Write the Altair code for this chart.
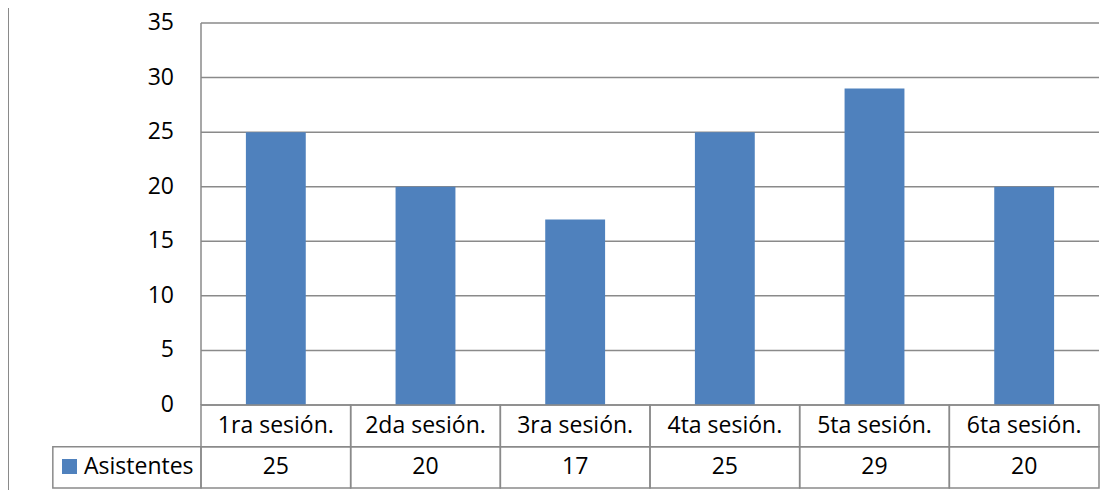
import altair as alt
import pandas as pd

categories = ["1ra sesión.", "2da sesión.", "3ra sesión.", "4ta sesión.", "5ta sesión.", "6ta sesión."]
values = [25, 20, 17, 25, 29, 20]
series_name = "Asistentes"
y_ticks = [0, 5, 10, 15, 20, 25, 30, 35]

BAR_COLOR = "#4F81BD"
LINE = "#8a8a8a"
FONT = "Open Sans"
FS = 23

XMIN, XMAX = -1.2895, 6.02
YMIN, YMAX = -7.788, 36.374
ROW1, ROW2 = -3.82, -7.6
W, H = 1094, 482
n = len(categories)
ymax_tick = max(y_ticks)

df = pd.DataFrame({"cat": categories, "value": values, "idx": list(range(n))})
df["serie"] = series_name
ticks = pd.DataFrame({"tick": y_ticks})
one = pd.DataFrame({"serie": [series_name]})

xs = alt.Scale(domain=[XMIN, XMAX], nice=False, zero=False)
ys = alt.Scale(domain=[YMIN, YMAX], nice=False, zero=False)


def X(f):
    return alt.X(f, type="quantitative", scale=xs, axis=None)


def Y(f):
    return alt.Y(f, type="quantitative", scale=ys, axis=None)


frame = alt.Chart(one).transform_calculate(
    fx=str(XMIN), fy0=str(YMIN), fy1=str(YMAX)
).mark_rule(color=LINE, strokeWidth=2).encode(x=X("fx"), y=Y("fy0"), y2="fy1:Q")

grid = alt.Chart(ticks).transform_calculate(
    gx0="0", gx1=str(n)
).mark_rule(color=LINE, strokeWidth=1.5).encode(y=Y("tick"), x=X("gx0"), x2="gx1:Q")

yaxis = alt.Chart(one).transform_calculate(
    ax="0", ay0="0", ay1=str(ymax_tick)
).mark_rule(color=LINE, strokeWidth=1.5).encode(x=X("ax"), y=Y("ay0"), y2="ay1:Q")

ylabels = alt.Chart(ticks).transform_calculate(lx="0").mark_text(
    align="right", baseline="middle", dx=-27, font=FONT, fontSize=FS, color="black"
).encode(x=X("lx"), y=Y("tick"), text=alt.Text("tick:Q"))

bars = alt.Chart(df).transform_calculate(
    x0="datum.idx + 0.3", x1="datum.idx + 0.7", y0="0"
).mark_rect().encode(
    x=X("x0"),
    x2="x1:Q",
    y=Y("value"),
    y2="y0:Q",
    color=alt.Color(
        "serie:N",
        scale=alt.Scale(domain=[series_name], range=[BAR_COLOR]),
        legend=alt.Legend(
            orient="none", legendX=50, legendY=447, title=None,
            symbolType="square", symbolSize=225, symbolStrokeWidth=0,
            labelFont=FONT, labelFontSize=FS, labelColor="black",
            labelOffset=3, padding=0,
        ),
    ),
)

cells = alt.Chart(df).transform_calculate(
    x0="datum.idx", x1="datum.idx + 1",
    r0="0", r1=str(ROW1), r2=str(ROW2),
    xc="datum.idx + 0.5", t1=str(ROW1 / 2), t2=str((ROW1 + ROW2) / 2),
)
row1 = cells.mark_rect(filled=False, stroke=LINE, strokeWidth=1.5).encode(
    x=X("x0"), x2="x1:Q", y=Y("r0"), y2="r1:Q"
)
row2 = cells.mark_rect(filled=False, stroke=LINE, strokeWidth=1.5).encode(
    x=X("x0"), x2="x1:Q", y=Y("r1"), y2="r2:Q"
)
legcell = alt.Chart(one).transform_calculate(
    x0="-0.99", x1="0", r1=str(ROW1), r2=str(ROW2)
).mark_rect(filled=False, stroke=LINE, strokeWidth=1.5).encode(
    x=X("x0"), x2="x1:Q", y=Y("r1"), y2="r2:Q"
)

cat_text = cells.mark_text(font=FONT, fontSize=FS, color="black", baseline="middle").encode(
    x=X("xc"), y=Y("t1"), text="cat:N"
)
val_text = cells.mark_text(font=FONT, fontSize=FS, color="black", baseline="middle").encode(
    x=X("xc"), y=Y("t2"), text="value:Q"
)

chart = alt.layer(
    frame, grid, yaxis, bars, row1, row2, legcell, cat_text, val_text, ylabels
).properties(
    width=W, height=H, autosize=alt.AutoSizeParams(type="none"), padding=0,
    background="white",
).configure_view(stroke=None)

chart.save("out.html", embed_options={"renderer": "svg", "actions": False})
